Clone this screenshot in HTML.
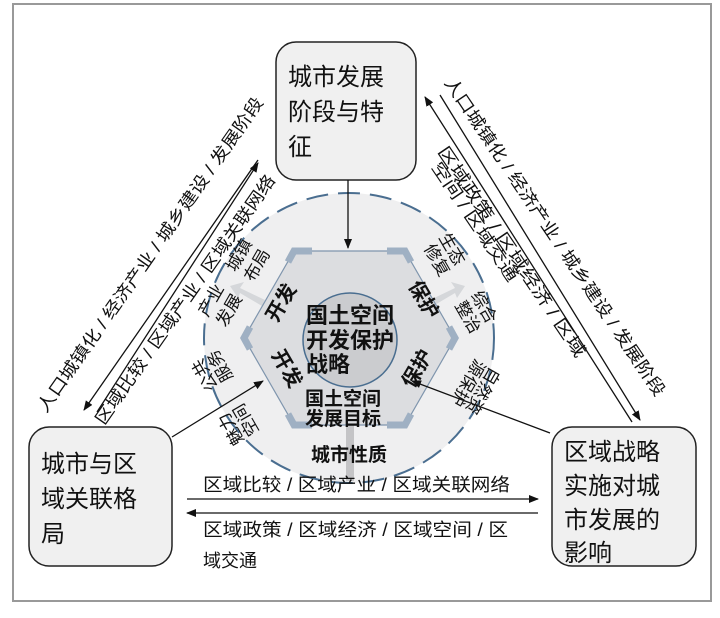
<!DOCTYPE html>
<html><head><meta charset="utf-8"><style>
body{margin:0;background:#fff;}
svg{display:block;font-family:"Liberation Sans","Noto Sans CJK SC",sans-serif;}
</style></head><body>
<svg width="720" height="618" viewBox="0 0 720 618" xmlns="http://www.w3.org/2000/svg">
<defs>
<marker id="ah" markerWidth="10" markerHeight="8" refX="9" refY="4" orient="auto" markerUnits="userSpaceOnUse"><path d="M0,0 L10,4 L0,8 Z" fill="#111"/></marker>
</defs>
<rect x="13" y="4" width="698" height="597" fill="#fff" stroke="#999" stroke-width="2"/>
<circle cx="349" cy="338" r="145" fill="#efeff0" stroke="#4a6e90" stroke-width="2" stroke-dasharray="22,10"/>
<rect x="346" y="425" width="8" height="56" fill="#c4c4c6"/>
<path d="M265,300 L240,288 L244,282 L230,286 L238,298 L240,293 L262,306 Z" fill="#d5d7da"/>
<path d="M430,300 L455,288 L451,282 L465,286 L457,298 L455,293 L433,306 Z" fill="#d5d7da"/>
<polygon points="294,251 405,251 455,338 405,425 294,425 244,338" fill="#dcdde0" stroke="#7f95ad" stroke-width="1.2"/>
<g stroke="#9fb0c3" stroke-width="7" fill="none" stroke-linejoin="miter">
<polyline points="288,262 294,251 312,251"/>
<polyline points="387,251 405,251 411,262"/>
<polyline points="449,327 455,338 449,349"/>
<polyline points="411,414 405,425 387,425"/>
<polyline points="312,425 294,425 288,414"/>
<polyline points="250,349 244,338 250,327"/>
</g>
<circle cx="350" cy="340" r="47" fill="#cbcccf" stroke="#4a6e90" stroke-width="1.5"/>
<rect x="276" y="42" width="140" height="138" rx="20" fill="#f0f0f0" stroke="#222" stroke-width="1.5"/>
<rect x="29" y="427" width="143" height="139" rx="20" fill="#f0f0f0" stroke="#222" stroke-width="1.5"/>
<rect x="552" y="427" width="144" height="139" rx="20" fill="#f0f0f0" stroke="#222" stroke-width="1.5"/>
<g font-size="24" fill="#111">
<text x="288" y="85">城市发展</text><text x="288" y="120">阶段与特</text><text x="288" y="155">征</text>
<text x="41" y="472">城市与区</text><text x="41" y="507">域关联格</text><text x="41" y="542">局</text>
<text x="564" y="460">区域战略</text><text x="564" y="494">实施对城</text><text x="564" y="528">市发展的</text><text x="564" y="561">影响</text>
</g>
<g stroke="#111" stroke-width="1.3" fill="none">
<line x1="258" y1="160" x2="84" y2="410" marker-end="url(#ah)"/>
<line x1="97" y1="412" x2="258" y2="163" marker-end="url(#ah)"/>
<line x1="440" y1="95" x2="640" y2="420" marker-end="url(#ah)"/>
<line x1="632" y1="422" x2="425" y2="97" marker-end="url(#ah)"/>
<line x1="187" y1="499" x2="538" y2="499" marker-end="url(#ah)"/>
<line x1="538" y1="513" x2="187" y2="513" marker-end="url(#ah)"/>
<line x1="348" y1="180" x2="348" y2="248" marker-end="url(#ah)"/>
<line x1="172" y1="437" x2="263" y2="381" marker-end="url(#ah)"/>
<line x1="550" y1="433" x2="412" y2="381" marker-end="url(#ah)"/>
</g>
<g font-size="17" fill="#111" text-anchor="middle">
<text transform="translate(155,258) rotate(-55)" textLength="380" lengthAdjust="spacingAndGlyphs">人口城镇化 / 经济产业 / 城乡建设 / 发展阶段</text>
<text transform="translate(190,303) rotate(-55)" textLength="300" lengthAdjust="spacingAndGlyphs">区域比较 / 区域产业 / 区域关联网络</text>
<text transform="translate(550,240) rotate(56)" textLength="380" lengthAdjust="spacingAndGlyphs">人口城镇化 / 经济产业 / 城乡建设 / 发展阶段</text>
<text transform="translate(507,255) rotate(56)" textLength="250" lengthAdjust="spacingAndGlyphs">区域政策 / 区域经济 / 区域</text>
<text transform="translate(470,225) rotate(56)" textLength="140" lengthAdjust="spacingAndGlyphs">空间 / 区域交通</text>
</g>
<g font-size="18" fill="#111">
<text x="203" y="491" textLength="307" lengthAdjust="spacingAndGlyphs">区域比较 / 区域产业 / 区域关联网络</text>
<text x="203" y="536" textLength="305" lengthAdjust="spacingAndGlyphs">区域政策 / 区域经济 / 区域空间 / 区</text>
<text x="203" y="567">域交通</text>
</g>
<g font-size="17" fill="#111" text-anchor="middle">
<text transform="translate(244,258) rotate(-60)">城镇</text>
<text transform="translate(262,268) rotate(-60)">布局</text>
<text transform="translate(216,303) rotate(-60)">产业</text>
<text transform="translate(234,313) rotate(-60)">发展</text>
<text transform="translate(210,372) rotate(-120)">公共</text>
<text transform="translate(225,363) rotate(-120)">服务</text>
<text transform="translate(236,426) rotate(-120)">魅力</text>
<text transform="translate(251,417) rotate(-120)">空间</text>
<text transform="translate(447,252) rotate(60)">生态</text>
<text transform="translate(432,263) rotate(60)">修复</text>
<text transform="translate(479,310) rotate(60)">综合</text>
<text transform="translate(463,320) rotate(60)">整治</text>
<text transform="translate(478,388) rotate(120)">自然资</text>
<text transform="translate(463,380) rotate(120)">源保护</text>
</g>
<g font-size="20" fill="#111" font-weight="bold" text-anchor="middle">
<text transform="translate(287,306) rotate(-60)">开发</text>
<text transform="translate(281,372) rotate(60)">开发</text>
<text transform="translate(418,303) rotate(60)">保护</text>
<text transform="translate(423,372) rotate(-60)">保护</text>
</g>
<g fill="#111" font-weight="bold">
<text x="306" y="323" font-size="22">国土空间</text>
<text x="306" y="348" font-size="22">开发保护</text>
<text x="306" y="372" font-size="22">战略</text>
<text x="305" y="405" font-size="19">国土空间</text>
<text x="305" y="425" font-size="19">发展目标</text>
<text x="311" y="461" font-size="19">城市性质</text>
</g>
</svg>
</body></html>
